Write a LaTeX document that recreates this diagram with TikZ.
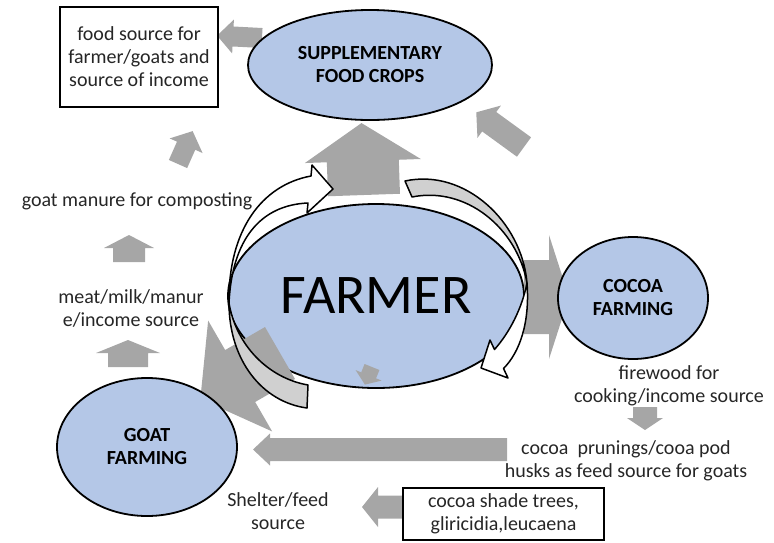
\documentclass[tikz,border=0pt]{standalone}
\usepackage{fontspec}
\setmainfont{Carlito}
\usetikzlibrary{shapes.geometric}
\definecolor{ellblue}{HTML}{B4C7E7}
\definecolor{arrowgray}{HTML}{A6A6A6}
\definecolor{bandgray}{HTML}{D0D0D0}
\definecolor{txt}{HTML}{262626}
% block arrow: tail x, tail y, angle, length, shaft half width, head half width, head length
\newcommand{\garrow}[7]{%
\begin{scope}[shift={(#1,#2)},rotate=#3]
\fill[arrowgray] (0,-#5) -- ({#4-#7},-#5) -- ({#4-#7},-#6) -- (#4,0) -- ({#4-#7},#6) -- ({#4-#7},#5) -- (0,#5) -- cycle;
\end{scope}}
\begin{document}
\begin{tikzpicture}[x=1pt,y=-1pt,
 ell/.style={ellipse, draw=black, line width=1.8pt, fill=ellblue, inner sep=0pt, align=center, font=\bfseries\fontsize{20}{23}\selectfont},
 lbl/.style={align=center, inner sep=0pt, text=txt, font=\fontsize{20}{23}\selectfont},
 boxx/.style={draw=black, line width=1.8pt, fill=white},
 band/.style={draw=black, line width=1.5pt, line join=round}]
\useasboundingbox (0,0) rectangle (774,542);

% central ellipse
\node[ell, minimum width=296pt, minimum height=184pt, font=\fontsize{56}{60}\selectfont] (farmer) at (376,296) {FARMER};

% gray block arrows
\garrow{262}{38}{177}{45}{10}{17}{16}
\garrow{178}{164}{66}{36}{10}{18}{16}
\garrow{129}{262}{90}{27}{16}{25}{13}
\garrow{128}{367}{90}{27}{20}{32}{13}
\garrow{364}{195}{92}{72}{36}{58}{38}
\garrow{524}{147}{144}{59}{12}{20}{16}
\garrow{524}{297}{0}{45}{37}{62}{20}
\garrow{645}{407}{270}{23}{12}{18}{12}
\garrow{507}{449.5}{180}{254}{11.5}{16}{17}
\garrow{402}{507}{180}{40}{11.5}{20}{16}
\garrow{280}{353}{210}{92}{30}{64}{46}
\garrow{372}{367}{248}{19}{8}{14}{10}

% other ellipses
\node[ell, minimum width=244pt, minimum height=110pt] (supp) at (370,65) {SUPPLEMENTARY\\FOOD CROPS};
\node[ell, minimum width=150pt, minimum height=122pt] (cocoa) at (633,298) {COCOA\\FARMING};
\node[ell, minimum width=180pt, minimum height=138pt] (goat) at (147,447) {GOAT\\FARMING};

% curved arrows round the farmer
\filldraw[band, fill=bandgray] (229,303) .. controls (229,360) and (262,402) .. (307,408) -- (308,385) .. controls (268,378) and (236,345) .. (229,303) -- cycle;
\filldraw[band, fill=white] (229,303) .. controls (228,230) and (262,185) .. (311,176) -- (312,165) -- (333,189) -- (307,213) -- (308,203) .. controls (260,205) and (232,240) .. (229,303) -- cycle;
\filldraw[band, fill=bandgray] (405,181) .. controls (465,168) and (522,222) .. (527,283) .. controls (517,228) and (466,186) .. (412,197) -- cycle;
\filldraw[band, fill=white] (527,283) .. controls (530,322) and (520,352) .. (503.5,368.5) -- (508,378) -- (481,368) -- (490,340) -- (494.5,349.5) .. controls (510,332) and (522,308) .. (527,283) -- cycle;

% boxes
\node[boxx, lbl, minimum width=158pt, minimum height=100pt] (foodbox) at (139,57) {food source for\\farmer/goats and\\source of income};
\node[boxx, lbl, minimum width=201pt, minimum height=52pt] (shadebox) at (503.5,514) {cocoa shade trees,\\gliricidia,leucaena};

% labels
\node[lbl] (manure) at (137,201) {goat manure for composting};
\node[lbl] (meat) at (131,308) {meat/milk/manur\\e/income source};
\node[lbl] (firewood) at (669,386) {firewood for\\cooking/income source};
\node[lbl] (prunings) at (626,461) {cocoa\ \ prunings/cooa pod\\husks as feed source for goats};
\node[lbl] (shelter) at (278,511) {Shelter/feed\\source};
\end{tikzpicture}
\end{document}
